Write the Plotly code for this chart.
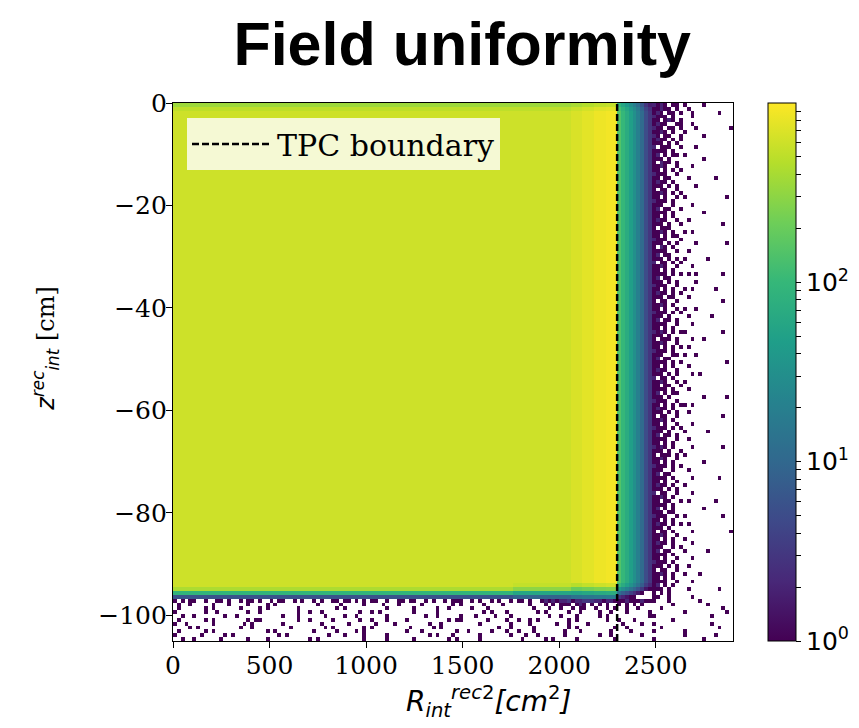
import numpy as np
import plotly.graph_objects as go

# ------------------------------------------------------------------
# Data (2D histogram, log colour scale)
# ------------------------------------------------------------------
x_range = [0, 2900]          # R^2 [cm^2]
y_range = [-105, 0]          # z [cm]
x_bin = 20.0
y_bin = 0.75
tpc_boundary_r2 = 2300

# counts in the filled TPC body, by x segment (segment start values)
core_seg_start = [0, 2060, 2120, 2180, 2240]
core_seg_count = [600, 680, 760, 850, 900]
# counts just outside the boundary, one value per column from x = 2300
outside_counts = [150, 100, 70, 48, 32, 20, 11, 5, 3]
# factors for the topmost rows (top row first)
top_row_factor = [0.6, 0.85]
# factors for the lowest filled rows (lowest first), by x segment
bottom_seg_start = [0, 1750, 2050]
bottom_seg_factor = [
    [0.01, 0.15, 0.7],
    [0.015, 0.1, 0.5, 0.9],
    [0.02, 0.08, 0.3, 0.7],
]
speckle_start = 2480

# isolated low-count cells to the right (x >= 2480), rows from z=0 downwards
right_map = [
    "2121.11.1....1........", "11211.1..1............", "121.11.1..1......1....",
    "2111.1....1...........", "11.121.1..............", "1211..11..1...........",
    "211.11.1...1........1.", "1121.1..1.............", "21.11..1.....1........",
    "1211.1.1..............", "111.1.1...............", "2.111..1...1..........",
    "1111.1................", "12.1.11.1.............", "111.1........1........",
    "1.211.1...............", "1121..1...1...........", "11.1.1.1.............1",
    "2111..1...............", "11.11....1......1.....", "1211.1................",
    "111.1.1....1..........", "1.11..1...............", "1121.1.1..............",
    "11.1..1.1..........1..", "2111.1................", "111..1....1...........",
    "12.11..1..............", "1111.1.......1........", "11.1.1................",
    "1211..1..1............", "111.1..1..........1...", "1.111...............",
    "1121.1..1.1...........", "11.1.11...............", "2111...1..............",
    "111.1.1....1.......1..", "1.21.1................", "1111..1..1............",
    "12.11.................", "111.1.1.1.....1.......", "2.11.1.1..............",
    "1121..1...1...........", "11.1.1................", "1111.1.1.1.1......1...",
    "12.11.................", "111.1.1....1..........", "2111..1...............",
    "11.1.1..1.1.....1.....", "1211.1.1..............", "111.11...1............",
    "1.11..1...........1...", "1121.1................", "11.1..1.1..1..........",
    "2111.1.1..............", "111.1....1.....1......", "12.11.1...............",
    "1111..1...1...........", "11.1.1................", "2121.1.11.........1...",
    "111.1.................", "1.111.1...1..1........", "1121..1...............",
    "11.1.1.1.1............", "2111.1................", "111..11.1..1..........",
    "12.11.................", "1111.1.1...........1..", "11.1.1...1............",
    "1211..1...............", "111.1.1...1.1.........", "2.11.1................",
    "1121..1.1.............", "11.11..1.............1", "1111.1...1............",
    "12.1.11...............", "111.1........1.....1..", "2111..1...............",
    "11.1.1.11.1...........", "1211.1................", "111.1.1..1............",
    "1.11..1...........1...", "1121.1................", "11.1..1...1...........",
    "2111.1.1..............", "111.1...1.....1.......", "12.11.1...............",
    "1111..1..1............", "11.1.1................", "2121.1....1.......1...",
    "111.1..1..............", "1.111.1.1.............", "1121..1...............",
    "11.1.1.......1........", "2111.1.1.............1", "111..1...1............",
    "12.11.................", "1111.1....1......1....", "11.1..1...............",
    "1211.1..1.............", "111.1.1...............", "2.11..1...1...........",
    "1121.1................", "11.11..1.1......1.....", "1111.1................",
    "12.1.1.......1........", "111.11................", "2111..1.1.........1...",
    "11.1.1................", "1211.1.1.1............", "111.1.................",
    "1.11.1....1.........1.", "1121..1...............", "11.1.1..1.............",
    "1211.1....1...........", "111..1.1..............", "12.11...1.....1.......",
    "1111.1................", "11.1..1...1...........", "2111.1...............1",
    "111.1.1..1............", "1.11..1...............", "1121.1..1...1.........",
    "11.1.1................", "1111..1...1...........", "12.1.1................",
    "111.1....1.......1....", "1.1.1.................", "11..1.....1...........",
]

# isolated low-count cells below the filled region (z < -96.75), top row first
bottom_map = [
    "1.1.11..1..11.1..1.11.1..1.11..1.1..1.1..11.11.1.1.11..1..11.11..1.1..1.111..1.1..1.1..1.11.1..1"
    "2121223122333221221112111211" "1...1.......1.............",
    ".1..1.....1...1....1....1.1..........1.....1.....1....1...1.....1.......1.1.....1....1......1..."
    "1.1.111.121.1.1.1..1.1.1.1.." ".....1........1.........",
    ".1......1.1......1....1.1.......1.........1.1..........1......1.....1..1.....1...1...........1.."
    ".1..1..1.11..1..1.1..1..1..." "..1...............1.....",
    "1.......1..1.......1..1.........1..1..1.........1..1.1........1.....1...........1.1...1.......1."
    "1.....1..1....1..1...1.....1" "........1..........1",
    "..1..1.......1..1...........1...1......1....1..1.......1.........1..1.....1...1....1...1......."
    "..1..1...1.....1.1..........1" "1..............1........",
    ".1......1.1........1.11.........1..1.....1......1..1...1....1..........1.11......1....1..1..1"
    ".1.......1.1.......1..1...1.." ".......1................",
    "1..1......1.......1.1.......1.........1......1......1....1........1..1.........1.......1....1"
    "......1..1....1........1....1" "..1..............1......",
    "....1.1..........1..1.........1........1.1.......1.1.........1.....1.1..............1..1....."
    "1........1.1.........1..1..." ".....1..............1...",
    ".1......1.1.............1.1.........1.....1....1.1..........1...1........1..1.....1...1..1."
    "..1.......1...1.......1....1.." "...1.......1............",
    "1......1.....1.1...........1.1..........1...1....1.....1..........1.1...1......1.......1...1."
    ".1......1........1..1.......1." ".........1.......1......",
    "..1..1......1......1....1..........1.1...........1.....1......1........1.1.....1..........1."
    "....1.1.....1.........1......." "..1............1........",
]

# colour bar ticks (counts)
cb_major = [1, 10, 100]
cb_major_text = ["10<sup>0</sup>", "10<sup>1</sup>", "10<sup>2</sup>"]
cb_minor = [2, 3, 4, 5, 6, 7, 8, 9, 20, 30, 40, 50, 60, 70, 80, 90,
            200, 300, 400, 500, 600, 700, 800, 900]

x_tick_vals = [0, 500, 1000, 1500, 2000, 2500]
y_tick_vals = [0, -20, -40, -60, -80, -100]

# ------------------------------------------------------------------
# Build the histogram grid
# ------------------------------------------------------------------
nx = int(round((x_range[1] - x_range[0]) / x_bin))
ny = int(round((y_range[1] - y_range[0]) / y_bin))
x_centers = x_range[0] + x_bin * (np.arange(nx) + 0.5)
y_centers = y_range[0] + y_bin * (np.arange(ny) + 0.5)
counts = np.zeros((ny, nx))

n_bottom = len(bottom_map)
right_col0 = int(round(speckle_start / x_bin))


def seg_index(starts, v):
    return max(i for i, s in enumerate(starts) if v >= s)


for r in range(n_bottom, ny):
    for c in range(right_col0):
        xlo = c * x_bin
        if xlo < tpc_boundary_r2:
            base = core_seg_count[seg_index(core_seg_start, xlo)]
        else:
            k = int(round((xlo - tpc_boundary_r2) / x_bin))
            base = outside_counts[min(k, len(outside_counts) - 1)]
        f = 1.0
        t = ny - 1 - r
        if t < len(top_row_factor):
            f *= top_row_factor[t]
        b = r - n_bottom
        facs = bottom_seg_factor[seg_index(bottom_seg_start, xlo)]
        if b < len(facs):
            f *= facs[b]
        counts[r, c] = base * f

for i, row in enumerate(right_map):
    r = ny - 1 - i
    row = row.ljust(nx - right_col0, ".")[: nx - right_col0]
    for j, ch in enumerate(row):
        if ch.isdigit():
            counts[r, right_col0 + j] = int(ch)

for i, row in enumerate(bottom_map):
    r = n_bottom - 1 - i
    row = row.ljust(nx, ".")[:nx]
    for j, ch in enumerate(row):
        if ch.isdigit():
            counts[r, j] = int(ch)

z = np.where(counts >= 0.5, np.log10(np.maximum(counts, 1.0)), np.nan)
z_list = [[None if np.isnan(v) else float(v) for v in row] for row in z]

cb_tickvals = [float(np.log10(v)) for v in cb_major + cb_minor]
cb_ticktext = cb_major_text + [""] * len(cb_minor)

# ------------------------------------------------------------------
# Figure
# ------------------------------------------------------------------
fig = go.Figure()
fig.add_trace(go.Heatmap(
    x=x_centers, y=y_centers, z=z_list,
    colorscale="Viridis", zmin=0, zmax=3,
    hoverongaps=False, showscale=True, showlegend=False,
    colorbar=dict(
        thickness=28, len=1.0, lenmode="fraction", y=0.5, yanchor="middle", ypad=0,
        x=1.0625, xanchor="left", xpad=0,
        outlinecolor="black", outlinewidth=1,
        tickmode="array", tickvals=cb_tickvals, ticktext=cb_ticktext,
        ticks="outside", ticklen=5, tickcolor="black", tickwidth=1,
        tickfont=dict(family="DejaVu Sans", size=25, color="black"),
    ),
))
fig.add_trace(go.Scatter(
    x=[tpc_boundary_r2, tpc_boundary_r2], y=y_range, mode="lines",
    line=dict(color="black", width=2.5, dash="7px,3px"),
    name="TPC boundary", showlegend=True, hoverinfo="skip",
))

axis_common = dict(
    showline=True, mirror=True, linecolor="black", linewidth=1.2,
    ticks="outside", ticklen=6, tickcolor="black", tickwidth=1.2,
    tickfont=dict(family="DejaVu Serif", size=25, color="black"),
    showgrid=False, zeroline=False,
)

fig.update_layout(
    width=859, height=728,
    margin=dict(l=173, r=126, t=103, b=87, autoexpand=False),
    paper_bgcolor="white", plot_bgcolor="white",
    title=dict(
        text="<b>Field uniformity</b>",
        font=dict(family="Liberation Sans", size=61, color="black"),
        x=0.538, xanchor="center", xref="container",
        y=1 - 44 / 728, yanchor="middle", yref="container",
    ),
    xaxis=dict(range=x_range, tickmode="array", tickvals=x_tick_vals,
               ticklabelstandoff=-4, **axis_common),
    yaxis=dict(range=y_range, tickmode="array", tickvals=y_tick_vals,
               ticklabelstandoff=-6, **axis_common),
    legend=dict(
        x=0.025, y=0.972, xanchor="left", yanchor="top",
        bgcolor="rgba(255,255,255,0.8)", borderwidth=0,
        font=dict(family="DejaVu Serif", size=30, color="black"),
        itemwidth=80,
    ),
    annotations=[
        dict(
            text="<i>R</i><sub><i>int</i></sub><sup><i>rec</i>2</sup><i>[cm</i><sup>2</sup><i>]</i>",
            font=dict(family="DejaVu Sans", size=28, color="black"),
            xref="paper", yref="paper", x=0.564, y=-0.112,
            xanchor="center", yanchor="middle", showarrow=False,
        ),
        dict(
            text="<i>z</i><sup><i>rec</i></sup><sub><i>int</i></sub> <span style='font-family:DejaVu Serif'>[cm]</span>",
            font=dict(family="DejaVu Sans", size=24, color="black"),
            xref="paper", yref="paper", x=-0.227, y=0.545, textangle=-90,
            xanchor="center", yanchor="middle", showarrow=False,
        ),
    ],
)

fig.write_html("out.html")
